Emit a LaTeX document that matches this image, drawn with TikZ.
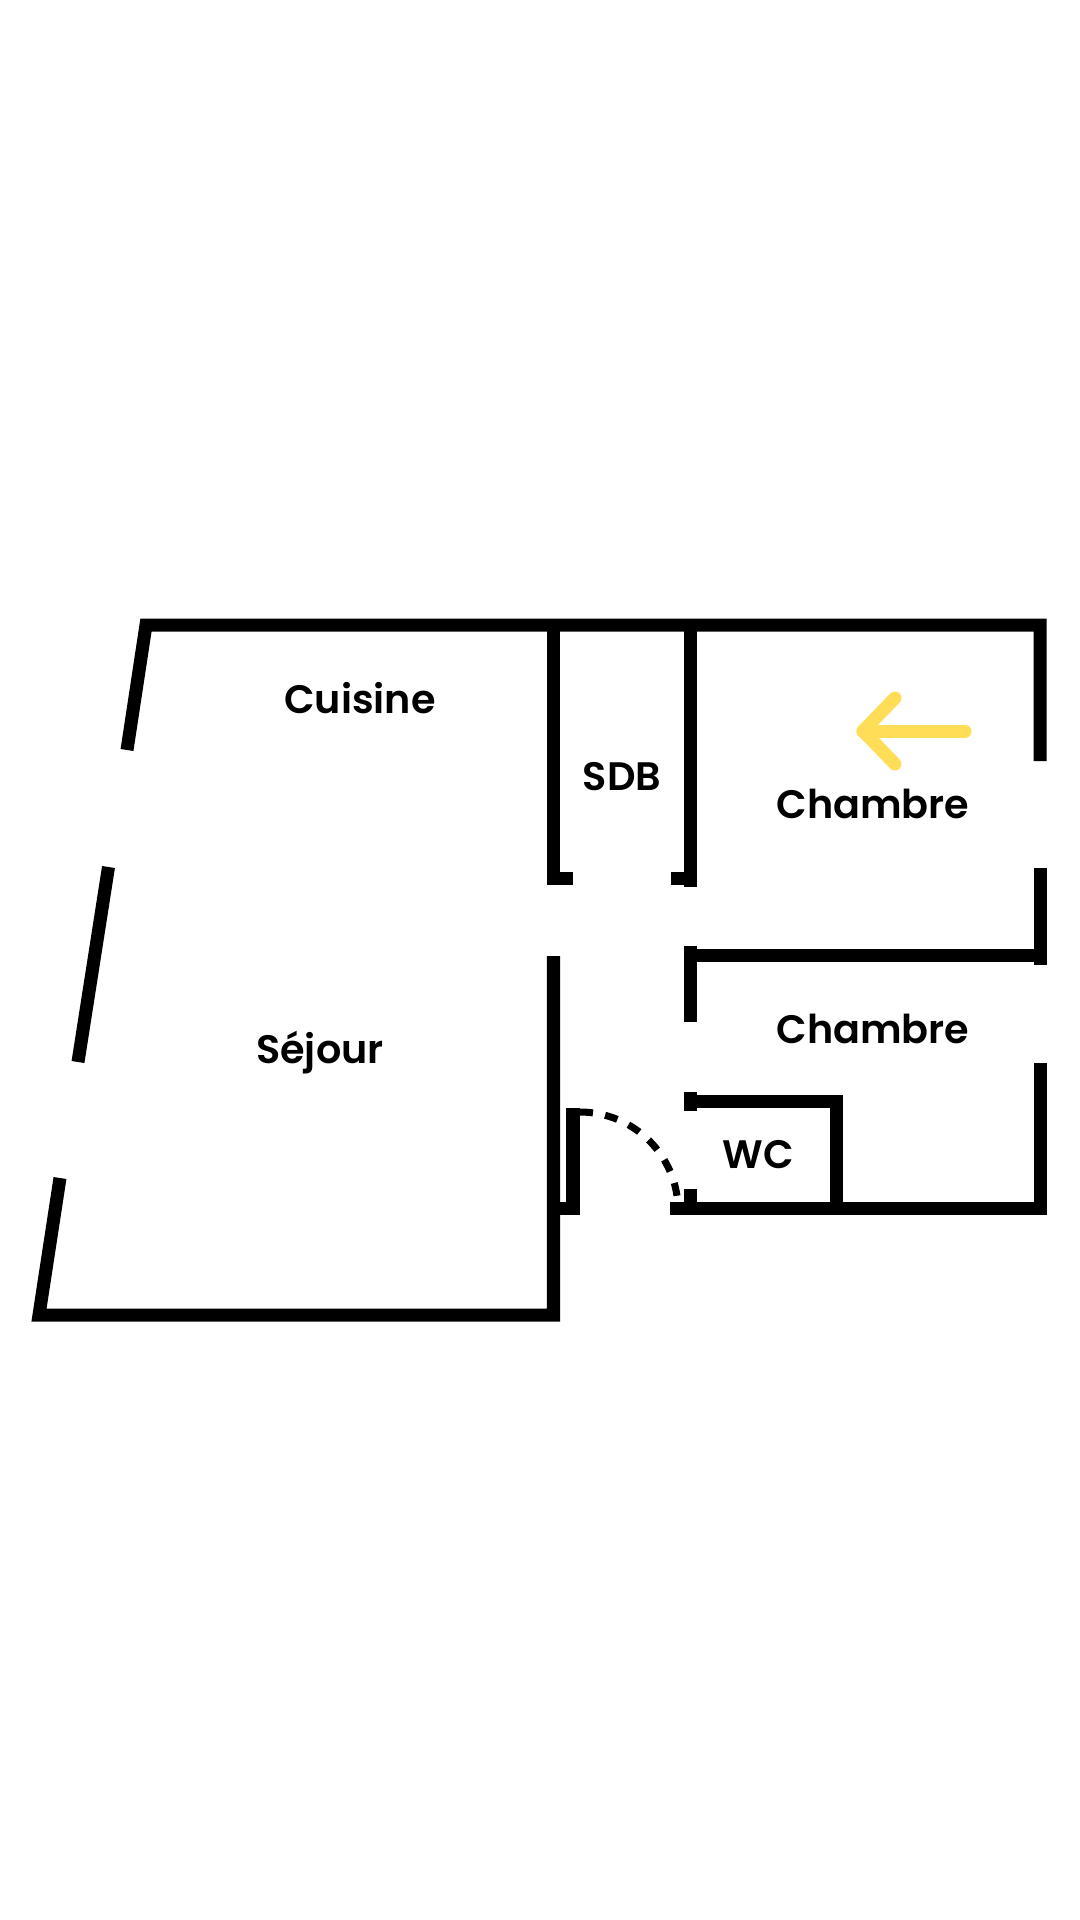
\documentclass[tikz,border=0pt]{standalone}
\usepackage{fontspec}
\setmainfont{Poppins}
\newfontfamily\roomfont{Poppins SemiBold}
\usepackage{tikz}
\definecolor{hintyellow}{HTML}{FFDD57}

\begin{document}
\begin{tikzpicture}[x=0.01cm, y=-0.01cm,
		wall/.style={black, line width=3.7pt, line join=miter},
		doorswing/.style={black, line width=2pt, dash pattern=on 3.7pt off 3.5pt},
		arrowhint/.style={hintyellow, line width=3.7pt, line cap=round, line join=round},
		roomlabel/.style={anchor=base, inner sep=0pt, font=\fontsize{11.3}{13}\roomfont}]
				\useasboundingbox (0,0) rectangle (1080,1920);

				% facade, broken by the windows
				\draw[wall] (127,750) -- (146,625) -- (1040,625) -- (1040,761);
				\draw[wall] (108.5,867) -- (78,1062);
				\draw[wall] (60,1178) -- (39,1315) -- (553.5,1315) -- (553.5,956);
				\draw[wall] (1040,868) -- (1040,965);
				\draw[wall] (670,1208) -- (1040,1208) -- (1040,1063);

				% cuisine / sdb
				\draw[wall] (553.5,625) -- (553.5,878) -- (573,878);
				\draw[wall] (690.5,625) -- (690.5,887);
				\draw[wall] (671,878) -- (690.5,878);

				% chambres
				\draw[wall] (690.5,955.5) -- (1040,955.5);
				\draw[wall] (690.5,946) -- (690.5,1022);

				% wc
				\draw[wall] (690.5,1092) -- (690.5,1111);
				\draw[wall] (690.5,1101) -- (836,1101) -- (836,1208);
				\draw[wall] (690.5,1189) -- (690.5,1208);

				% entrance door
				\draw[wall] (553.5,1208) -- (573,1208) -- (573,1108);
				\draw[doorswing] (580,1112) arc[start angle=-90, end angle=0, radius=98];

				\draw[arrowhint] (965,731) -- (863,731);
				\draw[arrowhint] (895,698) -- (863,731) -- (895,764);

				\node[roomlabel] (cuisine) at (360,713) {Cuisine};
				\node[roomlabel] (sdb) at (622,790) {SDB};
				\node[roomlabel] (chambreA) at (873,818) {Chambre};
				\node[roomlabel] (sejour) at (320,1063) {Séjour};
				\node[roomlabel] (chambreB) at (873,1043) {Chambre};
				\node[roomlabel] (wc) at (758,1168) {WC};
			\end{tikzpicture}
\end{document}
